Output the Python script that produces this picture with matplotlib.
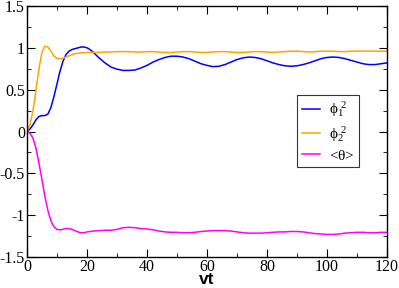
import numpy as np
import matplotlib
matplotlib.use("Agg")
import matplotlib.pyplot as plt
from matplotlib.ticker import MultipleLocator

# phi_1^2
t1 = np.concatenate([np.arange(0, 23), np.arange(24, 121, 2)])
phi1 = [0.0, 0.03, 0.08, 0.14, 0.18, 0.19, 0.19, 0.21, 0.29, 0.42, 0.57, 0.72,
        0.84, 0.92, 0.96, 0.98, 0.99, 1.0, 1.01, 1.01, 1.0, 0.98, 0.95,
        0.88, 0.82, 0.77, 0.745, 0.73, 0.73, 0.735, 0.76, 0.79, 0.83,
        0.86, 0.885, 0.9, 0.9, 0.89, 0.87, 0.84, 0.81, 0.79, 0.775,
        0.78, 0.8, 0.83, 0.86, 0.88, 0.89, 0.885, 0.87, 0.845, 0.82,
        0.8, 0.785, 0.78, 0.785, 0.8, 0.82, 0.845, 0.87, 0.885, 0.89,
        0.885, 0.87, 0.85, 0.83, 0.81, 0.8, 0.8, 0.81, 0.82]

# phi_2^2
t2 = np.concatenate([np.arange(0, 17), [18, 20], np.arange(22, 121, 2)])
phi2 = [0.0, 0.08, 0.25, 0.5, 0.75, 0.95, 1.02, 1.01, 0.96, 0.9, 0.875, 0.87,
        0.875, 0.89, 0.905, 0.92, 0.93, 0.94, 0.945,
        0.945, 0.945, 0.95, 0.95, 0.955, 0.955, 0.955, 0.95, 0.95, 0.955,
        0.955, 0.95, 0.945, 0.945, 0.95, 0.955, 0.955, 0.95, 0.945, 0.945,
        0.95, 0.955, 0.955, 0.95, 0.945, 0.945, 0.95, 0.955, 0.955, 0.95,
        0.945, 0.95, 0.955, 0.96, 0.96, 0.955, 0.95, 0.955, 0.96, 0.96,
        0.96, 0.955, 0.955, 0.96, 0.96, 0.96, 0.96, 0.96, 0.96, 0.96]

# <theta>
t3 = np.concatenate([np.arange(0, 21), np.arange(22, 121, 2)])
theta = [0.0, -0.02, -0.08, -0.2, -0.38, -0.58, -0.78, -0.95, -1.07, -1.14,
         -1.17, -1.175, -1.17, -1.16, -1.16, -1.17, -1.185, -1.2, -1.21, -1.21, -1.2,
         -1.19, -1.185, -1.18, -1.18, -1.17, -1.15, -1.145, -1.15, -1.16, -1.165,
         -1.175, -1.19, -1.2, -1.205, -1.205, -1.21, -1.21, -1.205, -1.195, -1.19,
         -1.185, -1.185, -1.185, -1.19, -1.2, -1.21, -1.215, -1.215, -1.215, -1.21,
         -1.205, -1.2, -1.2, -1.195, -1.195, -1.2, -1.21, -1.22, -1.225, -1.23,
         -1.23, -1.225, -1.215, -1.21, -1.205, -1.205, -1.21, -1.21, -1.205, -1.205]

fig = plt.figure(figsize=(3.99, 2.88), dpi=100)
ax = fig.add_axes([27/399, 1 - 257/288, 360/399, 251/288])

ax.plot(t1, phi1, color='#0000ff', lw=1.1, label=r'$\mathregular{\phi_1^{\ 2}}$')
ax.plot(t2, phi2, color='#ffa500', lw=1.1, label=r'$\mathregular{\phi_2^{\ 2}}$')
ax.plot(t3, theta, color='#ff00ff', lw=1.1, label=r'<$\mathregular{\theta}$>')

ax.set_xlim(0, 120)
ax.set_ylim(-1.5, 1.5)
ax.xaxis.set_major_locator(MultipleLocator(20))
ax.xaxis.set_minor_locator(MultipleLocator(10))
ax.yaxis.set_major_locator(MultipleLocator(0.5))
ax.yaxis.set_minor_locator(MultipleLocator(0.25))
ax.set_yticks([-1.5, -1, -0.5, 0, 0.5, 1, 1.5])
ax.set_yticklabels(['-1.5', '-1', '-0.5', '0', '0.5', '1', '1.5'])
ax.tick_params(which='both', direction='in', top=True, right=True,
               labelsize=11.5, pad=1.5)
ax.tick_params(which='major', length=6)
ax.tick_params(which='minor', length=3)
for lab in ax.get_xticklabels() + ax.get_yticklabels():
    lab.set_family('Liberation Serif')
for s in ax.spines.values():
    s.set_linewidth(1.0)

ax.set_xlabel('vt', fontsize=12.5, fontweight='bold', family='Liberation Sans', labelpad=-2)

leg = ax.legend(loc='upper left', bbox_to_anchor=((297-27)/360, (257-95)/251),
                prop={'family': 'Liberation Serif', 'size': 11},
                frameon=True, fancybox=False, handlelength=1.2, handletextpad=0.6,
                borderpad=0.3, labelspacing=0.3, borderaxespad=0)
leg.get_frame().set_edgecolor('black')
leg.get_frame().set_linewidth(0.8)

fig.savefig('out.png', dpi=100)
